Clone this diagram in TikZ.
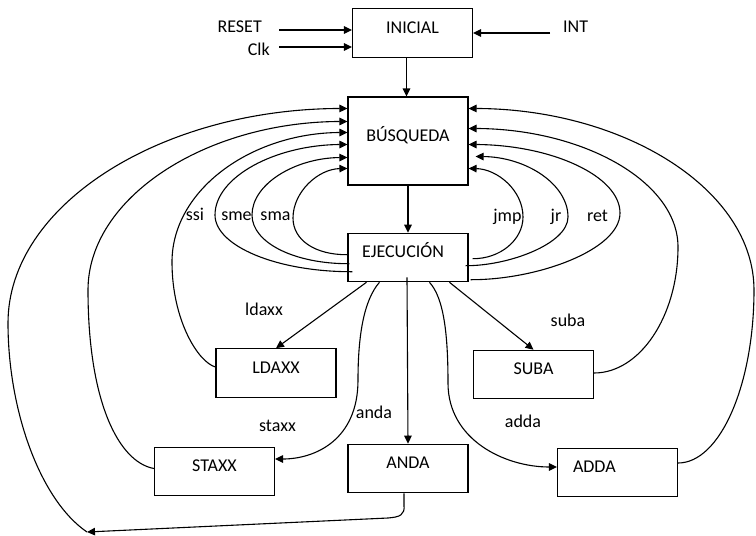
\documentclass[tikz,border=0pt]{standalone}
\usepackage{fontspec}
\setmainfont{Carlito}
\usetikzlibrary{arrows.meta,calc}
\begin{document}
\begin{tikzpicture}[x=1pt,y=-1pt,
  font=\fontsize{18}{21}\selectfont,
  box/.style={draw, line width=1.1pt, minimum width=120pt, minimum height=48.5pt,
    text height=12pt, text depth=12pt, inner sep=0pt},
  conn/.style={line width=1.1pt, -{Triangle[length=8pt,width=7.5pt]}},
  lbl/.style={anchor=base, inner sep=0pt}]
\useasboundingbox (0,0) rectangle (756,536);

% boxes
\node[box] (ini) at (412.5,33) {INICIAL};
\node[box, minimum height=88pt] (busq) at (408,141) {BÚSQUEDA};
\node[box, text width=92pt, align=left] (ejec) at (408,257.5) {EJECUCIÓN};
\node[box] (ldaxx) at (276,373) {LDAXX};
\node[box] (staxx) at (214.5,471.5) {STAXX};
\node[box] (anda) at (408,468.5) {ANDA};
\node[box] (suba) at (533.5,374.5) {SUBA};
\node[box, text width=89pt, align=left] (adda) at (617.5,472.5) {ADDA};

% inputs
\node[lbl, anchor=base east] (reset) at (262,32) {RESET};
\node[lbl, anchor=base east] (clk) at (270,55) {Clk};
\node[lbl, anchor=base west] (int) at (563,32) {INT};
\draw[conn] ([xshift=17pt,yshift=2pt]reset.base east) -- ([yshift=3pt]ini.west);
\draw[conn] ([xshift=9pt,yshift=8pt]clk.base east) -- ([yshift=-14pt]ini.west);
\draw[conn] ([xshift=-13pt,yshift=-1pt]int.base west) -- (ini.east);

% main flow
\draw[conn] ([xshift=-6pt]ini.south) -- ([xshift=-1.5pt]busq.north);
\draw[conn] (busq.south) -- (ejec.north);

% left loops back to BUSQUEDA
\draw[conn] ($(ejec.north west)+(0,22)$) .. controls (315,255) and (293,240) .. (293,218)
  .. controls (293,192) and (318,169) .. ($(busq.north west)+(0,72)$);
\draw[conn] ($(ejec.north west)+(2,31)$) .. controls (295,264) and (252,243) .. (252,215)
  .. controls (252,184) and (295,158) .. ($(busq.north west)+(0,61)$);
\draw[conn] ($(ejec.north west)+(5,39)$) .. controls (277,272) and (215,246) .. (215,215)
  .. controls (215,177) and (275,145) .. ($(busq.north west)+(0,48)$);
\draw[conn] ($(ldaxx.west)+(0,-6)$) .. controls (198,362) and (172,320) .. (172,262)
  .. controls (172,190) and (251,133) .. ($(busq.north west)+(0,36)$);
\draw[conn] ($(staxx.west)+(0,-3)$) .. controls (118,462) and (88,400) .. (88,290)
  .. controls (88,198) and (205,122) .. ($(busq.north west)+(0,25)$);
\coordinate (loopend) at (87,532);
\draw[conn] (loopend) .. controls (40,500) and (8,410) .. (8,323)
  .. controls (8,205) and (161,109) .. ($(busq.north west)+(0,12)$);

% right loops back to BUSQUEDA
\draw[conn] ($(ejec.north east)+(4,26)$) .. controls (500,259) and (523,240) .. (523,217)
  .. controls (523,190) and (497,169) .. ($(busq.north east)+(0,72)$);
\draw[conn] ($(ejec.north east)+(-3,33)$) .. controls (508,266) and (568,244) .. (568,217)
  .. controls (568,184) and (526,157) .. ($(busq.north east)+(7,60)$);
\draw[conn] ($(ejec.north east)+(2,47)$) .. controls (537,280) and (620,250) .. (620,213)
  .. controls (620,176) and (552,145) .. ($(busq.north east)+(0,48)$);
\draw[conn] ($(suba.east)+(0,-1.5)$) .. controls (640,373) and (678,316) .. (678,247)
  .. controls (678,182) and (584,129) .. ($(busq.north east)+(0,32)$);
\draw[conn] ($(adda.east)+(0,-9.5)$) .. controls (720,463) and (754,385) .. (754,290)
  .. controls (754,190) and (625,109) .. ($(busq.north east)+(0,12)$);

% from EJECUCION to the operations
\draw[conn] ($(ejec.south west)+(19,0)$) -- (ldaxx.north);
\draw[conn] ($(ejec.south west)+(32,0)$) .. controls (364,300) and (358,335) .. (358,380)
  .. controls (358,440) and (315,459) .. ($(staxx.east)+(0,-12.5)$);
\draw[conn] ($(ejec.south)+(-1,-5)$) -- (anda.north);
\draw[conn] ($(ejec.south west)+(102,0)$) -- (suba.north);
\draw[conn] ($(ejec.south west)+(82,0)$) .. controls (444,298) and (448,335) .. (448,383)
  .. controls (448,440) and (505,467) .. ($(adda.west)+(0,-5.5)$);
\draw[conn] ($(anda.south)+(-4,0)$) -- (404,505) .. controls (405,515) and (400,517) .. (388,518)
  -- (loopend);

% labels
\node[lbl] (lssi) at (195,220) {ssi};
\node[lbl] (lsme) at (236.5,220) {sme};
\node[lbl] (lsma) at (275.5,220) {sma};
\node[lbl] (ljmp) at (507.5,221) {jmp};
\node[lbl] (ljr) at (556,221) {jr};
\node[lbl] (lret) at (597.5,221) {ret};
\node[lbl] (lldaxx) at (264,315) {ldaxx};
\node[lbl] (lstaxx) at (277.5,431.5) {staxx};
\node[lbl] (landa) at (374,418) {anda};
\node[lbl] (lsuba) at (568,326) {suba};
\node[lbl] (ladda) at (523,427) {adda};
\end{tikzpicture}
\end{document}
